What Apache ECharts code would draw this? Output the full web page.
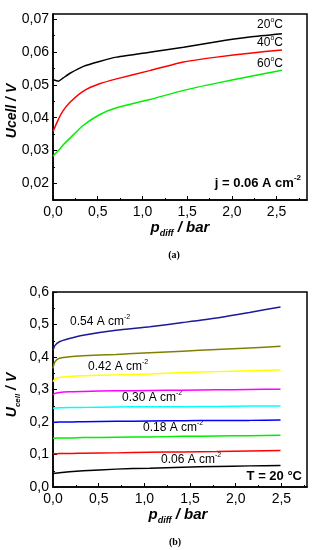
<!DOCTYPE html>
<html><head><meta charset="utf-8">
<script src="https://cdn.jsdelivr.net/npm/echarts@6/dist/echarts.min.js"></script>
<style>html,body{margin:0;padding:0;background:#fff}#c{width:314px;height:550px}</style>
</head><body><div id="c"></div>
<script>
// ---- Panel (a): j = 0.06 A cm-2 ----
const pA = [0, 0.06, 0.11, 0.19, 0.34, 0.52, 0.71, 1.08, 1.46, 1.83, 2.2, 2.56];
const uA20 = [0.0515, 0.0511, 0.0520, 0.0535, 0.0556, 0.0571, 0.0584, 0.0599, 0.0614, 0.0631, 0.0645, 0.0655];
const uA40 = [0.0358, 0.0395, 0.0420, 0.0447, 0.0481, 0.0503, 0.0518, 0.0543, 0.0569, 0.0584, 0.0596, 0.0606];
const uA60 = [0.0283, 0.0300, 0.0316, 0.0338, 0.0377, 0.0409, 0.0430, 0.0455, 0.0483, 0.0505, 0.0525, 0.0544];
const seriesA = ['20°C', '40°C', '60°C'];
const xTicksA = [0, 0.5, 1.0, 1.5, 2.0, 2.5];
const xMinorA = [0.25, 0.75, 1.25, 1.75, 2.25, 2.75];
const yTicksA = [0.02, 0.03, 0.04, 0.05, 0.06, 0.07];
const yMinorA = [0.015, 0.025, 0.035, 0.045, 0.055, 0.065];

// ---- Panel (b): T = 20 °C ----
const pB = [0, 0.02, 0.07, 0.18, 0.33, 0.69, 1.06, 1.42, 1.79, 2.15, 2.49];
const uB054 = [0.420, 0.435, 0.447, 0.457, 0.467, 0.482, 0.493, 0.506, 0.520, 0.537, 0.554];
const uB048 = [0.365, 0.385, 0.396, 0.401, 0.404, 0.408, 0.413, 0.418, 0.423, 0.428, 0.433];
const uB042 = [0.324, 0.332, 0.337, 0.340, 0.342, 0.345, 0.348, 0.352, 0.355, 0.358, 0.360];
const uB036 = [0.283, 0.288, 0.291, 0.293, 0.294, 0.296, 0.297, 0.298, 0.299, 0.300, 0.301];
const uB030 = [0.242, 0.243, 0.244, 0.245, 0.245, 0.246, 0.247, 0.247, 0.248, 0.249, 0.249];
const uB024 = [0.198, 0.199, 0.200, 0.200, 0.201, 0.202, 0.203, 0.204, 0.205, 0.205, 0.206];
const uB018 = [0.150, 0.150, 0.151, 0.151, 0.152, 0.153, 0.154, 0.156, 0.157, 0.158, 0.159];
const uB012 = [0.102, 0.102, 0.103, 0.103, 0.104, 0.105, 0.107, 0.108, 0.109, 0.111, 0.112];
const uB006 = [0.041, 0.042, 0.044, 0.047, 0.050, 0.055, 0.058, 0.061, 0.063, 0.065, 0.066];
const seriesB = ['0.54', '0.48', '0.42', '0.36', '0.30', '0.24', '0.18', '0.12', '0.06'];
const xTicksB = [0, 0.5, 1.0, 1.5, 2.0, 2.5];
const xMinorB = [0.25, 0.75, 1.25, 1.75, 2.25, 2.75];
const yTicksB = [0, 0.1, 0.2, 0.3, 0.4, 0.5, 0.6];
const yMinorB = [0.05, 0.15, 0.25, 0.35, 0.45, 0.55];

const FONT = 'Liberation Sans, Arial, sans-serif';
const fmt = d => v => v.toFixed(d).replace('.', ',');

function axes(dim, grid, min, max, majors, minors, dec) {
  const pos = dim === 'x' ? 'bottom' : 'left';
  const main = {
    type: 'value', gridIndex: grid, min, max, position: pos,
    axisLine: {show: true, onZero: false, lineStyle: {color: '#000', width: 1.5}},
    axisTick: {show: true, inside: true, length: 4, customValues: majors, lineStyle: {color: '#000', width: 1}},
    axisLabel: {show: true, customValues: majors, formatter: fmt(dec), color: '#000', fontFamily: FONT, fontSize: 14, margin: dim === 'x' ? 5 : 4},
    splitLine: {show: false}
  };
  const minor = {
    type: 'value', gridIndex: grid, min, max, position: pos,
    axisLine: {show: false, onZero: false},
    axisTick: {show: true, inside: true, length: 2, customValues: minors, lineStyle: {color: '#000', width: 1}},
    axisLabel: {show: false},
    splitLine: {show: false}
  };
  return [main, minor];
}

const xA = axes('x', 0, 0, 2.84, xTicksA, xMinorA, 1);
const yA = axes('y', 0, 0.015, 0.0715, yTicksA, yMinorA, 2);
const xB = axes('x', 1, 0, 2.78, xTicksB, xMinorB, 1);
const yB = axes('y', 1, 0, 0.6, yTicksB, yMinorB, 1);

function line(name, xs, ys, color, xi, yi) {
  return {
    name, type: 'line', xAxisIndex: xi, yAxisIndex: yi, showSymbol: false, symbol: 'none',
    smooth: 0.2, data: xs.map((x, i) => [x, ys[i]]),
    lineStyle: {color, width: 1.5}, animation: false
  };
}

const series = [
  line(seriesA[0], pA, uA20, '#000000', 0, 0),
  line(seriesA[1], pA, uA40, '#ff0000', 0, 0),
  line(seriesA[2], pA, uA60, '#00ee00', 0, 0),
  line(seriesB[0], pB, uB054, '#1a1a9a', 2, 2),
  line(seriesB[1], pB, uB048, '#808000', 2, 2),
  line(seriesB[2], pB, uB042, '#ffff00', 2, 2),
  line(seriesB[3], pB, uB036, '#ff00ff', 2, 2),
  line(seriesB[4], pB, uB030, '#00ffff', 2, 2),
  line(seriesB[5], pB, uB024, '#0000ff', 2, 2),
  line(seriesB[6], pB, uB018, '#00ee00', 2, 2),
  line(seriesB[7], pB, uB012, '#ff0000', 2, 2),
  line(seriesB[8], pB, uB006, '#000000', 2, 2)
];

const baseRich = (size, bold, italic) => ({
  t: {fontSize: size, fontWeight: bold ? 'bold' : 'normal', fontStyle: italic ? 'italic' : 'normal', fontFamily: FONT, color: '#000', lineHeight: size + 5, verticalAlign: 'middle'},
  sup: {fontSize: Math.round(size * 0.6), fontWeight: bold ? 'bold' : 'normal', fontStyle: italic ? 'italic' : 'normal', fontFamily: FONT, color: '#000', lineHeight: Math.round(size * 0.6), verticalAlign: 'top'},
  sub: {fontSize: Math.round(size * 0.6), fontWeight: bold ? 'bold' : 'normal', fontStyle: italic ? 'italic' : 'normal', fontFamily: FONT, color: '#000', lineHeight: Math.round(size * 0.6), verticalAlign: 'bottom'}
});

function txt(x, y, text, size, bold, italic, align, rot) {
  return {
    type: 'text', x, y, rotation: rot || 0, silent: true,
    style: {text, rich: baseRich(size, bold, italic), align: align || 'left', verticalAlign: 'middle'}
  };
}

const tempLabel = s => '{t|' + s.replace('°C', '') + '}{sup|o}{t|C}';
const curLabel = s => '{t|' + s + ' A cm}{sup|-2}';

const graphics = [
  txt(283, 25, tempLabel(seriesA[0]), 12, false, false, 'right'),
  txt(283, 43, tempLabel(seriesA[1]), 12, false, false, 'right'),
  txt(283, 64, tempLabel(seriesA[2]), 12, false, false, 'right'),
  txt(301, 183, '{t|j = 0.06 A cm}{sup|-2}', 13, true, false, 'right'),
  txt(12, 111, '{t|Ucell / V}', 14, true, true, 'center', Math.PI / 2),
  txt(180, 228, '{t|p}{sub|diff}{t| / bar}', 15, true, true, 'center'),
  {type: 'text', x: 174, y: 255, silent: true, style: {text: '(a)', font: 'bold 10px Liberation Serif, serif', fill: '#000', align: 'center', verticalAlign: 'middle'}},

  txt(70, 322, curLabel(seriesB[0]), 12, false, false, 'left'),
  txt(88, 367, curLabel(seriesB[2]), 12, false, false, 'left'),
  txt(122, 398, curLabel(seriesB[4]), 12, false, false, 'left'),
  txt(143, 428, curLabel(seriesB[6]), 12, false, false, 'left'),
  txt(161, 460, curLabel(seriesB[8]), 12, false, false, 'left'),
  txt(302, 476, '{t|T = 20 °C}', 13, true, false, 'right'),
  txt(12, 395, '{t|U}{sub|cell}{t| / V}', 14, true, true, 'center', Math.PI / 2),
  txt(178, 515, '{t|p}{sub|diff}{t| / bar}', 15, true, true, 'center'),
  {type: 'text', x: 175, y: 542, silent: true, style: {text: '(b)', font: 'bold 10px Liberation Serif, serif', fill: '#000', align: 'center', verticalAlign: 'middle'}}
];

const chart = echarts.init(document.getElementById('c'), null, {renderer: 'canvas'});
chart.setOption({
  animation: false,
  backgroundColor: '#fff',
  grid: [
    {left: 53, top: 14, width: 254, height: 186, show: true, borderColor: '#000', borderWidth: 1.5, backgroundColor: 'transparent', containLabel: false},
    {left: 53, top: 292, width: 254, height: 195, show: true, borderColor: '#000', borderWidth: 1.5, backgroundColor: 'transparent', containLabel: false}
  ],
  xAxis: [xA[0], xA[1], xB[0], xB[1]],
  yAxis: [yA[0], yA[1], yB[0], yB[1]],
  series,
  graphic: graphics
});
</script>
</body></html>
